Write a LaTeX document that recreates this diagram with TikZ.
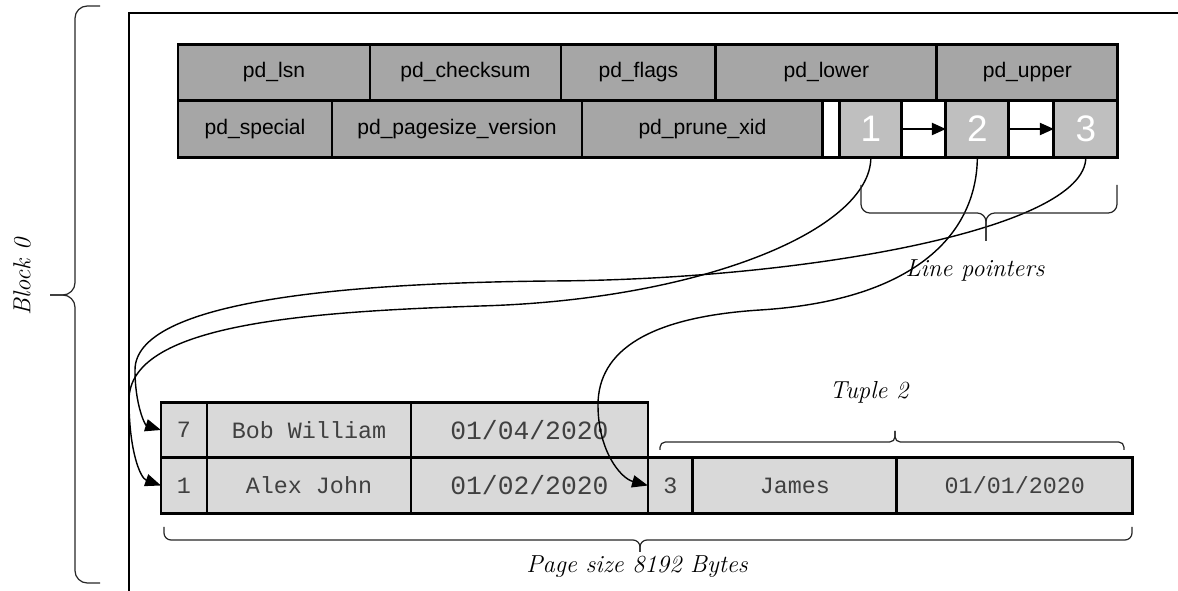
\documentclass[tikz,border=0pt]{standalone}
\usepackage{fontspec}
\setsansfont{Liberation Sans}
\setmonofont{Liberation Mono}
\usepackage{tikz}
\usetikzlibrary{arrows.meta,positioning}

\definecolor{hdrgray}{HTML}{A6A6A6}
\definecolor{slotgray}{HTML}{BFBFBF}
\definecolor{tupgray}{HTML}{D9D9D9}

\tikzset{
  cell/.style={draw, line width=1.6pt, inner sep=0pt, outer sep=0pt, anchor=west},
  hdr/.style={cell, fill=hdrgray, minimum height=1.13cm, font=\fontsize{12}{14}\sffamily},
  slot/.style={cell, fill=slotgray, minimum height=1.13cm, text=white, font=\fontsize{21}{24}\sffamily},
  gap/.style={cell, fill=white, minimum height=1.13cm},
  tup/.style={cell, fill=tupgray, minimum height=1.11cm, text=black!75, font=\fontsize{13.3}{15}\ttfamily},
  brc/.style={draw, line width=0.7pt, black!85, rounded corners=5pt},
  note/.style={font=\fontsize{14}{16}\selectfont\itshape},
  ptr/.style={-{Triangle[length=9pt,width=7pt]}, line width=0.8pt},
}

\begin{document}
\begin{tikzpicture}[x=0.02cm, y=-0.02cm]
  \useasboundingbox (0,0) rectangle (1178,591);

  % page frame
  \draw[line width=1.6pt] (129,600) -- (129,13) -- (1190,13);

  % page header
  \node[hdr, minimum width=3.84cm] (lsn) at (178,72.5) {pd\_lsn};
  \node[hdr, minimum width=3.82cm, right=0pt of lsn] (csum) {pd\_checksum};
  \node[hdr, minimum width=3.10cm, right=0pt of csum] (flags) {pd\_flags};
  \node[hdr, minimum width=4.42cm, right=0pt of flags] (lower) {pd\_lower};
  \node[hdr, minimum width=3.62cm, right=0pt of lower] (upper) {pd\_upper};

  \node[hdr, minimum width=3.08cm] (special) at (178,129) {pd\_special};
  \node[hdr, minimum width=5.00cm, right=0pt of special] (psize) {pd\_pagesize\_version};
  \node[hdr, minimum width=4.82cm, right=0pt of psize] (prune) {pd\_prune\_xid};
  \node[gap, minimum width=0.34cm, right=0pt of prune] (g0) {};
  \node[slot, minimum width=1.24cm, right=0pt of g0] (s1) {1};
  \node[gap, minimum width=0.88cm, right=0pt of s1] (g1) {};
  \node[slot, minimum width=1.26cm, right=0pt of g1] (s2) {2};
  \node[gap, minimum width=0.90cm, right=0pt of s2] (g2) {};
  \node[slot, minimum width=1.28cm, right=0pt of g2] (s3) {3};

  \foreach \a/\b in {s1/s2, s2/s3}
    \draw[-{Triangle[length=8pt,width=7pt]}, line width=0.8pt] (\a.east) -- (\b.west);

  % tuples
  \node[tup, minimum width=0.92cm] (b7) at (161,430) {7};
  \node[tup, minimum width=4.08cm, right=0pt of b7] (bname) {Bob William};
  \node[tup, minimum width=4.74cm, right=0pt of bname, font=\fontsize{15}{17}\ttfamily] (bdate) {01/04/2020};

  \node[tup, minimum width=0.92cm] (a1) at (161,485.5) {1};
  \node[tup, minimum width=4.08cm, right=0pt of a1] (aname) {Alex John};
  \node[tup, minimum width=4.74cm, right=0pt of aname, font=\fontsize{15}{17}\ttfamily] (adate) {01/02/2020};

  \node[tup, minimum width=0.90cm, right=0pt of adate] (c3) {3};
  \node[tup, minimum width=4.08cm, right=0pt of c3] (cname) {James};
  \node[tup, minimum width=4.72cm, right=0pt of cname] (cdate) {01/01/2020};

  % line pointers to tuples
  \draw[ptr] (s3.south) .. controls (1086,230) and (800,280) .. (550,281)
    .. controls (350,283) and (135,300) .. (135,370)
    .. controls (135,405) and (145,425) .. (b7.west);
  \draw[ptr] (s1.south) .. controls (871,230) and (700,300) .. (480,306)
    .. controls (300,312) and (129,325) .. (129,400)
    .. controls (129,450) and (140,478) .. (a1.west);
  \draw[ptr] (s2.south) .. controls (977,230) and (920,300) .. (760,310)
    .. controls (650,317) and (598,350) .. (598,405)
    .. controls (598,450) and (620,478) .. (c3.west);

  % braces
  \draw[brc] (861,185) -- (861,213) -- (986,213) -- (986,241);
  \draw[brc] (1117,185) -- (1117,213) -- (986,213) -- (986,241);
  \draw[brc, rounded corners=3pt] (660,450) -- (660,442) -- (895,442) -- (895,431);
  \draw[brc, rounded corners=3pt] (1124,450) -- (1124,442) -- (895,442) -- (895,431);
  \draw[brc, rounded corners=4pt] (164,527) -- (164,540) -- (640,540) -- (640,552);
  \draw[brc, rounded corners=4pt] (1132,527) -- (1132,540) -- (640,540) -- (640,552);
  \draw[brc, rounded corners=7pt] (100,6) -- (75,6) -- (75,295) -- (50,295);
  \draw[brc, rounded corners=7pt] (100,583) -- (75,583) -- (75,295) -- (50,295);

  \node[note] (lp) at (975,270) {Line pointers};
  \node[note] (t2) at (869,392) {Tuple 2};
  \node[note] (ps) at (637,567) {Page size 8192 Bytes};
  \node[note, rotate=90] (blk) at (22,277) {Block 0};
\end{tikzpicture}
\end{document}
